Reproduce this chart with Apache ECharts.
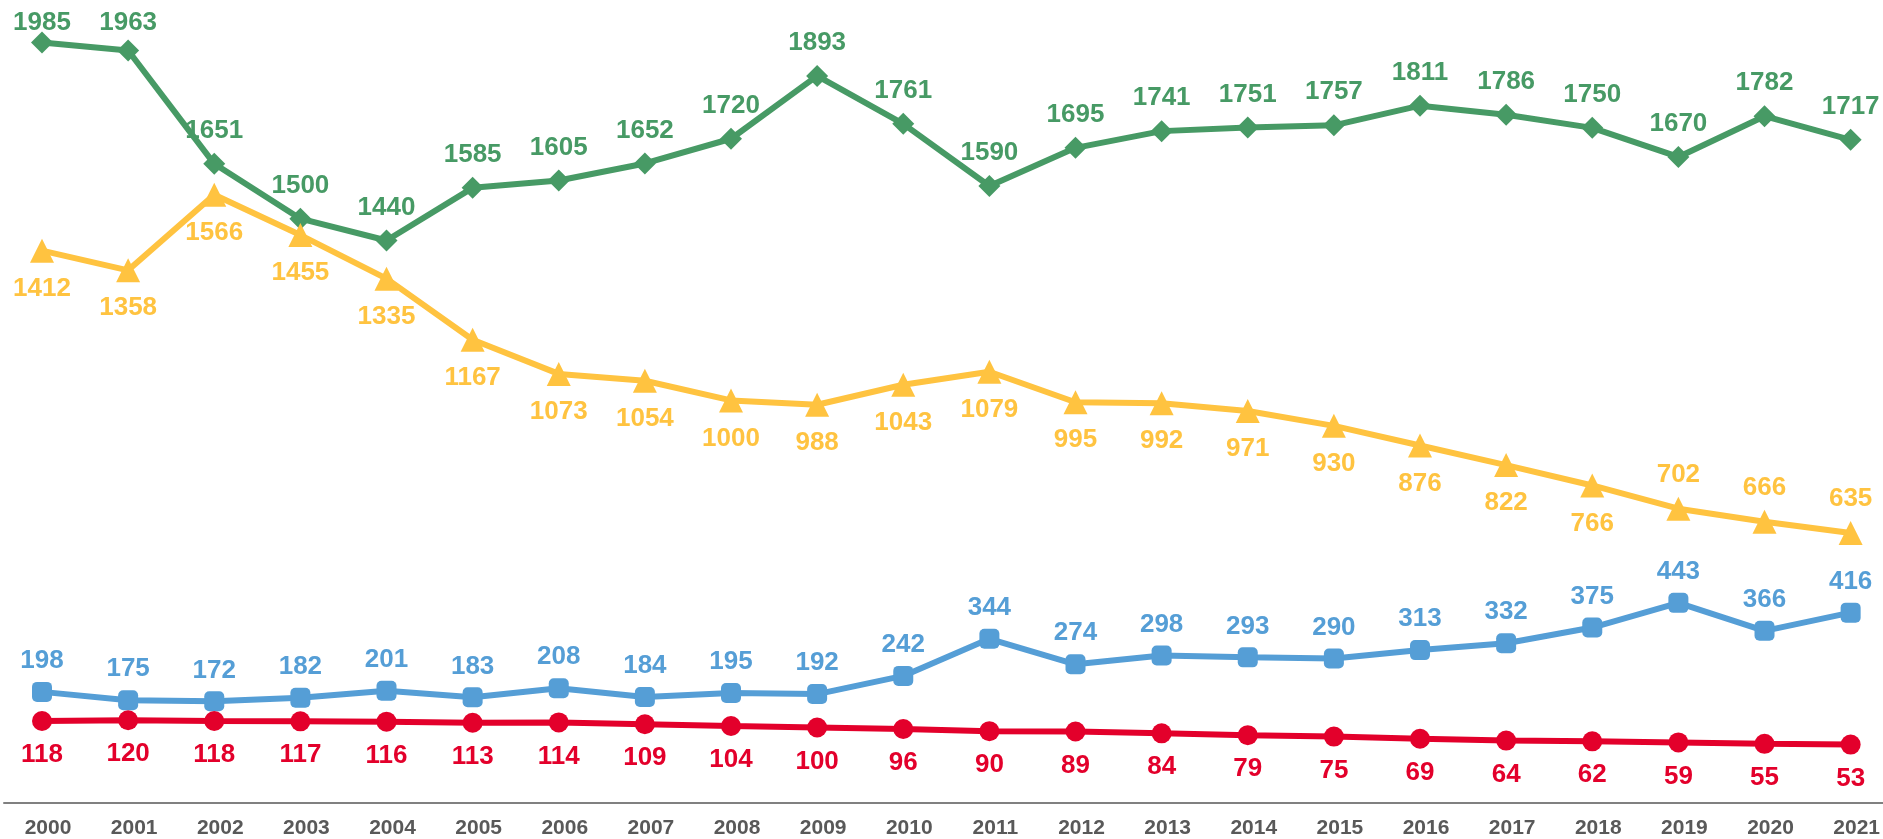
<!DOCTYPE html>
<html><head><meta charset="utf-8">
<script src="https://cdn.jsdelivr.net/npm/echarts@6/dist/echarts.min.js"></script>
<style>html,body{margin:0;padding:0;background:#fff}#c{width:1883px;height:839px}</style>
</head><body><div id="c"></div>
<script>
const years = ['2000','2001','2002','2003','2004','2005','2006','2007','2008','2009','2010','2011','2012','2013','2014','2015','2016','2017','2018','2019','2020','2021'];
const greenValues = [1985,1963,1651,1500,1440,1585,1605,1652,1720,1893,1761,1590,1695,1741,1751,1757,1811,1786,1750,1670,1782,1717];
const yellowValues = [1412,1358,1566,1455,1335,1167,1073,1054,1000,988,1043,1079,995,992,971,930,876,822,766,702,666,635];
const blueValues = [198,175,172,182,201,183,208,184,195,192,242,344,274,298,293,290,313,332,375,443,366,416];
const redValues = [118,120,118,117,116,113,114,109,104,100,96,90,89,84,79,75,69,64,62,59,55,53];
const yellowLabelsAbove = ['2019','2020','2021'];

const FONT = '"Liberation Sans", Arial, sans-serif';
function mk(data, color, symbol, size, pos, dist) {
  return {
    type: 'line', data: data, symbol: symbol, symbolSize: size, showAllSymbol: true,
    xAxisIndex: 0, yAxisIndex: 0,
    lineStyle: {color: color, width: 6}, itemStyle: {color: color},
    label: {show: true, position: pos, distance: dist, color: color, fontSize: 26, fontWeight: 'bold', fontFamily: FONT, lineHeight: 26},
    emphasis: {disabled: true}
  };
}
const yellowData = yellowValues.map((v, i) => yellowLabelsAbove.indexOf(years[i]) >= 0
  ? {value: v, label: {position: 'top', distance: 9}} : v);

const chart = echarts.init(document.getElementById('c'), null, {renderer: 'canvas'});
chart.setOption({
  animation: false,
  backgroundColor: '#ffffff',
  grid: [
    {left: 42, right: 32, top: 37, height: 766},
    {left: 4, right: 0, top: 37, height: 766}
  ],
  xAxis: [{
    type: 'category', data: years, boundaryGap: false, gridIndex: 0,
    axisLine: {show: false}, axisTick: {show: false}, splitLine: {show: false},
    axisLabel: {color: '#595959', fontSize: 21, fontWeight: 'bold', fontFamily: FONT, margin: 16, padding: [0,0,0,12]}
  }, {
    type: 'category', data: years, gridIndex: 1,
    axisLine: {onZero: false, lineStyle: {color: '#808080', width: 2}},
    axisTick: {show: false}, axisLabel: {show: false}, splitLine: {show: false}
  }],
  yAxis: [
    {type: 'value', min: -105, max: 2000, show: false, gridIndex: 0, splitLine: {show: false}},
    {type: 'value', min: 0, max: 1, show: false, gridIndex: 1, splitLine: {show: false}}
  ],
  series: [
    mk(greenValues, '#479A65', 'diamond', 22, 'top', 9),
    mk(yellowData, '#FFC340', 'triangle', 24, 'bottom', 13),
    mk(blueValues, '#559ED6', 'roundRect', 20, 'top', 8),
    mk(redValues, '#E3002B', 'circle', 20, 'bottom', 11)
  ]
});
// keep green labels inside the top of the canvas: push labels down when they would be clipped
const minCenter = 23;
const greenData = greenValues.map((v, i) => {
  const py = chart.convertToPixel({xAxisIndex: 0, yAxisIndex: 0}, [i, v])[1];
  const center = py - 11 - 9 - 13;
  if (center < minCenter) {
    return {value: v, label: {offset: [0, minCenter - center]}};
  }
  return v;
});
chart.setOption({series: [{data: greenData}]});
</script>
</body></html>
